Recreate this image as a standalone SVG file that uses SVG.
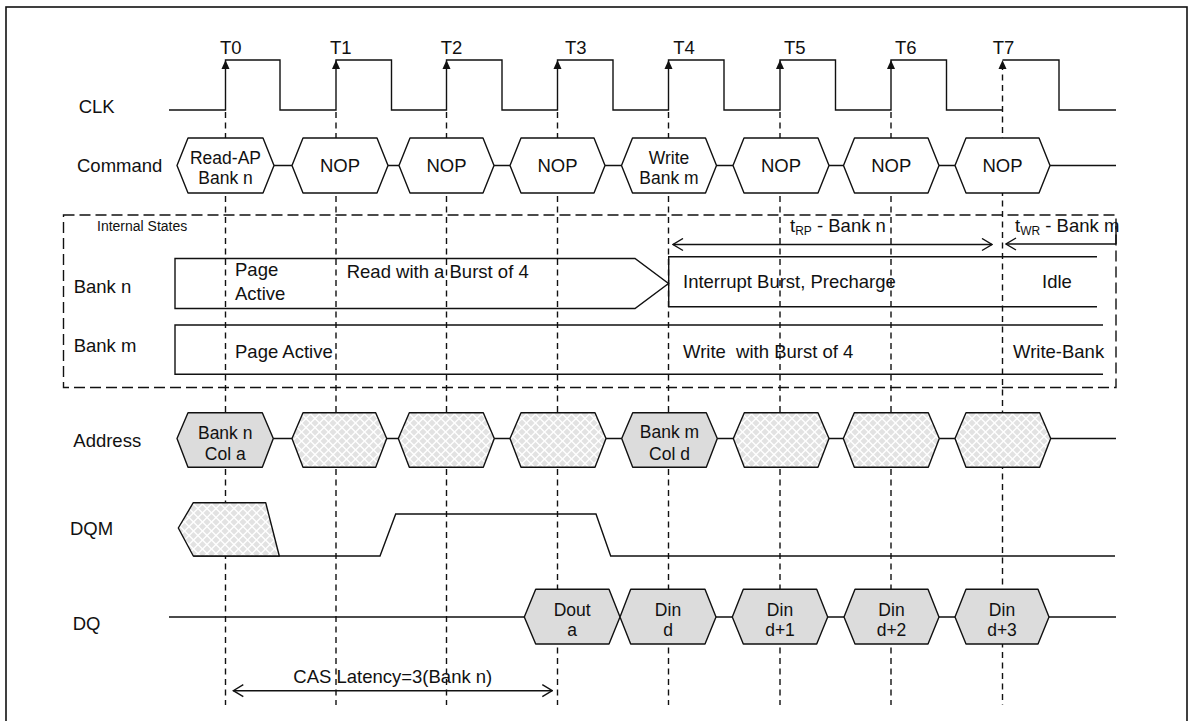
<svg xmlns="http://www.w3.org/2000/svg" width="1192" height="721" viewBox="0 0 1192 721">
<style>
text{font-family:"Liberation Sans",Arial,sans-serif;font-size:18.5px;fill:#111}
.c{text-anchor:middle}
.t2{font-size:17.5px}
.sm{font-size:14px}
.ln{fill:none;stroke:#111;stroke-width:1.4}
.hx{fill:#fff;stroke:#111;stroke-width:1.4;stroke-linejoin:round}
.hg{fill:#dcdcdc;stroke:#111;stroke-width:1.4;stroke-linejoin:round}
.hc{fill:url(#chk);stroke:#111;stroke-width:1.4;stroke-linejoin:round}
.vd{fill:none;stroke:#111;stroke-width:1.4;stroke-dasharray:6 4.5}
.bx{fill:none;stroke:#111;stroke-width:1.4;stroke-dasharray:11 5}
.ar{fill:none;stroke:#111;stroke-width:1.4;marker-start:url(#oa);marker-end:url(#oa)}
</style>
<defs>
<pattern id="chk" width="9" height="9" patternUnits="userSpaceOnUse">
<rect width="9" height="9" fill="#fff"/>
<path d="M4.5,1L8,4.5L4.5,8L1,4.5Z M0,-3.5L3.5,0L0,3.5L-3.5,0Z M9,-3.5L12.5,0L9,3.5L5.5,0Z M0,5.5L3.5,9L0,12.5L-3.5,9Z M9,5.5L12.5,9L9,12.5L5.5,9Z" fill="#e2e2e2"/>
</pattern>
<marker id="oa" viewBox="0 0 12 14" refX="11" refY="7" markerWidth="12" markerHeight="14" markerUnits="userSpaceOnUse" orient="auto-start-reverse">
<path d="M1,1L11,7L1,13" fill="none" stroke="#111" stroke-width="1.4"/>
</marker>
<polygon id="up" points="0,0 4,9 -4,9" fill="#111"/>
</defs>
<rect x="6" y="7" width="1181" height="720" fill="#fff" stroke="#111" stroke-width="1.6"/>

<g id="grid">
<line class="vd" x1="225.5" y1="112" x2="225.5" y2="705"/>
<line class="vd" x1="336" y1="112" x2="336" y2="705"/>
<line class="vd" x1="446.5" y1="112" x2="446.5" y2="705"/>
<line class="vd" x1="557.5" y1="112" x2="557.5" y2="705"/>
<line class="vd" x1="668.5" y1="112" x2="668.5" y2="705"/>
<line class="vd" x1="780" y1="112" x2="780" y2="705"/>
<line class="vd" x1="891" y1="112" x2="891" y2="705"/>
<line class="vd" x1="1002.5" y1="64" x2="1002.5" y2="705"/>
</g>

<g id="labels">
<text x="78.7" y="113">CLK</text>
<text x="77" y="171.7">Command</text>
<text x="73.7" y="292.7">Bank n</text>
<text x="73.7" y="351.7">Bank m</text>
<text x="73.3" y="446.7">Address</text>
<text x="70" y="535">DQM</text>
<text x="72.7" y="630">DQ</text>
</g>

<g id="clk">
<path class="ln" d="M169,110H225.5V60H280V110H336V60H391.5V110H446.5V60H502V110H557.5V60H613V110H668.5V60H724V110H780V60H835.5V110H891V60H946.5V110H1002.5"/>
<path class="ln" d="M1002.5,60H1059V110H1116"/>
<use href="#up" x="225.5" y="60"/>
<use href="#up" x="336" y="60"/>
<use href="#up" x="446.5" y="60"/>
<use href="#up" x="557.5" y="60"/>
<use href="#up" x="668.5" y="60"/>
<use href="#up" x="780" y="60"/>
<use href="#up" x="891" y="60"/>
<use href="#up" x="1002.5" y="60"/>
<text x="220" y="54.3">T0</text>
<text x="330" y="54.3">T1</text>
<text x="440.7" y="54.3">T2</text>
<text x="565" y="54.3">T3</text>
<text x="673.3" y="54.3">T4</text>
<text x="784" y="54.3">T5</text>
<text x="895" y="54.3">T6</text>
<text x="992.7" y="54.3">T7</text>
</g>

<g id="connectors">
<path class="ln" d="M274,165.5H292M388,165.5H399M494,165.5H510M605,165.5H621.5M716.5,165.5H733M829,165.5H843.5M939,165.5H955M1050,165.5H1116"/>
<path class="ln" d="M273.3,438.5H292M386.7,438.5H398.3M494.3,438.5H510M606,438.5H621.7M717.3,438.5H733.3M829,438.5H843.3M939.3,438.5H955M1050.7,438.5H1116"/>
<path class="ln" d="M169,617H524.3M716,617H732.3M827.7,617H844M939,617H955M1049,617H1116"/>
<path class="ln" d="M193.3,556H380L395.7,514H596L610.7,556H1115"/>
</g>

<g id="cmd-t0"><polygon class="hx" points="177,165.5 188,138 263,138 274,165.5 263,193 188,193"/><text class="c t2" x="225.5" y="163.5">Read-AP</text><text class="c t2" x="225.5" y="184">Bank n</text></g>
<g id="cmd-t1"><polygon class="hx" points="292,165.5 303,138 377,138 388,165.5 377,193 303,193"/><text class="c" x="340" y="171.5">NOP</text></g>
<g id="cmd-t2"><polygon class="hx" points="399,165.5 410,138 483,138 494,165.5 483,193 410,193"/><text class="c" x="446.5" y="171.5">NOP</text></g>
<g id="cmd-t3"><polygon class="hx" points="510,165.5 521,138 594,138 605,165.5 594,193 521,193"/><text class="c" x="557.5" y="171.5">NOP</text></g>
<g id="cmd-t4"><polygon class="hx" points="621.5,165.5 632.5,138 705.5,138 716.5,165.5 705.5,193 632.5,193"/><text class="c t2" x="669" y="163.5">Write</text><text class="c t2" x="669" y="184">Bank m</text></g>
<g id="cmd-t5"><polygon class="hx" points="733,165.5 744,138 818,138 829,165.5 818,193 744,193"/><text class="c" x="781" y="171.5">NOP</text></g>
<g id="cmd-t6"><polygon class="hx" points="843.5,165.5 854.5,138 928,138 939,165.5 928,193 854.5,193"/><text class="c" x="891.2" y="171.5">NOP</text></g>
<g id="cmd-t7"><polygon class="hx" points="955,165.5 966,138 1039,138 1050,165.5 1039,193 966,193"/><text class="c" x="1002.5" y="171.5">NOP</text></g>

<g id="internal-states">
<rect class="bx" x="63.5" y="215" width="1052.5" height="172.5"/>
<text class="sm" x="97" y="230.7">Internal States</text>
</g>

<g id="bank-n-read">
<path class="ln" d="M175,258.5H635L668.5,283.5L635,308.5H175Z"/>
<text x="235" y="276">Page</text>
<text x="235" y="299.5">Active</text>
<text x="346.7" y="278">Read with a Burst of 4</text>
</g>
<g id="bank-n-precharge">
<path class="ln" d="M1097,256.7H668.7V306.7H1097"/>
<text x="683" y="288">Interrupt Burst, Precharge</text>
<text x="1042" y="288">Idle</text>
</g>
<g id="bank-m">
<path class="ln" d="M1103,325H175V374.3H1103"/>
<text x="235" y="358">Page Active</text>
<text x="683" y="358" xml:space="preserve">Write  with Burst of 4</text>
<text x="1013" y="358">Write-Bank</text>
</g>

<g id="trp">
<line class="ar" x1="673" y1="244.5" x2="992" y2="244.5"/>
<text x="790" y="232">t<tspan font-size="12" dy="3">RP</tspan><tspan dy="-3"> - Bank n</tspan></text>
</g>
<g id="twr">
<line class="ln" x1="1006" y1="244" x2="1116" y2="244" marker-start="url(#oa)"/>
<line class="ln" x1="1116" y1="226" x2="1116" y2="244"/>
<text x="1015" y="232">t<tspan font-size="12" dy="3">WR</tspan><tspan dy="-3"> - Bank m</tspan></text>
</g>

<g id="addr-t0"><polygon class="hg" points="177,438.5 188,412.7 262.3,412.7 273.3,438.5 262.3,467.3 188,467.3"/><text class="c t2" x="225.2" y="438.5">Bank n</text><text class="c t2" x="225.2" y="460">Col a</text></g>
<g id="addr-t1"><polygon class="hc" points="292,438.5 303,412.7 375.7,412.7 386.7,438.5 375.7,467.3 303,467.3"/></g>
<g id="addr-t2"><polygon class="hc" points="398.3,438.5 409.3,412.7 483.3,412.7 494.3,438.5 483.3,467.3 409.3,467.3"/></g>
<g id="addr-t3"><polygon class="hc" points="510,438.5 521,412.7 595,412.7 606,438.5 595,467.3 521,467.3"/></g>
<g id="addr-t4"><polygon class="hg" points="621.7,438.5 632.7,412.7 706.3,412.7 717.3,438.5 706.3,467.3 632.7,467.3"/><text class="c t2" x="669.5" y="438">Bank m</text><text class="c t2" x="669.5" y="459.5">Col d</text></g>
<g id="addr-t5"><polygon class="hc" points="733.3,438.5 744.3,412.7 818,412.7 829,438.5 818,467.3 744.3,467.3"/></g>
<g id="addr-t6"><polygon class="hc" points="843.3,438.5 854.3,412.7 928.3,412.7 939.3,438.5 928.3,467.3 854.3,467.3"/></g>
<g id="addr-t7"><polygon class="hc" points="955,438.5 966,412.7 1039.7,412.7 1050.7,438.5 1039.7,467.3 966,467.3"/></g>

<g id="dqm-t0"><polygon class="hc" points="178.3,528 193.3,502.7 265.7,502.7 279.3,556 193.3,556"/></g>

<g id="dq-dout-a"><polygon class="hg" points="524.3,617 535.7,589.3 609,589.3 620,617 609,644 535.7,644"/><text class="c t2" x="572.2" y="615.5">Dout</text><text class="c t2" x="572.2" y="636">a</text></g>
<g id="dq-din-d"><polygon class="hg" points="620,617 630.7,589.3 705,589.3 716,617 705,644 630.7,644"/><text class="c t2" x="668" y="615.5">Din</text><text class="c t2" x="668" y="636">d</text></g>
<g id="dq-din-d1"><polygon class="hg" points="732.3,617 743.3,589.3 816.7,589.3 827.7,617 816.7,644 743.3,644"/><text class="c t2" x="780" y="615.5">Din</text><text class="c t2" x="780" y="636">d+1</text></g>
<g id="dq-din-d2"><polygon class="hg" points="844,617 855,589.3 928,589.3 939,617 928,644 855,644"/><text class="c t2" x="891.5" y="615.5">Din</text><text class="c t2" x="891.5" y="636">d+2</text></g>
<g id="dq-din-d3"><polygon class="hg" points="955,617 966,589.3 1038,589.3 1049,617 1038,644 966,644"/><text class="c t2" x="1002" y="615.5">Din</text><text class="c t2" x="1002" y="636">d+3</text></g>

<g id="cas-latency">
<line class="ar" x1="233.3" y1="690.7" x2="552.3" y2="690.7"/>
<text x="293.3" y="683.3">CAS Latency=3(Bank n)</text>
</g>
</svg>
